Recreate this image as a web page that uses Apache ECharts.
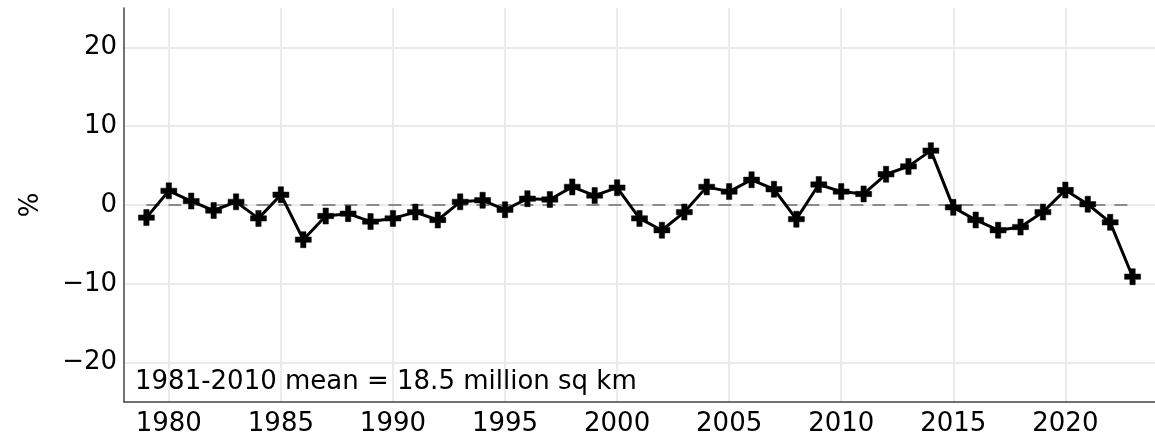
<!DOCTYPE html>
<html>
<head>
<meta charset="utf-8">
<script src="https://cdn.jsdelivr.net/npm/echarts@6/dist/echarts.min.js"></script>
<style>
  html, body { margin: 0; padding: 0; background: #fff; }
  #chart { width: 1155px; height: 440px; }
</style>
</head>
<body>
<div id="chart"></div>
<script>
// Yearly extent anomaly (% of the 1981-2010 mean)
const years = [];
for (let y = 1979; y <= 2023; y++) years.push(y);
const anomalies = [
  -1.6, 1.8, 0.5, -0.7, 0.4, -1.7, 1.3, -4.4, -1.4, -1.1,
  -2.1, -1.7, -0.9, -1.9, 0.4, 0.6, -0.6, 0.8, 0.7, 2.3,
  1.2, 2.2, -1.7, -3.2, -0.9, 2.3, 1.7, 3.2, 2.0, -1.8,
  2.6, 1.7, 1.4, 3.9, 4.9, 6.9, -0.3, -1.9, -3.2, -2.8,
  -0.9, 1.9, 0.1, -2.2, -9.1
];
const xTicks = [1980, 1985, 1990, 1995, 2000, 2005, 2010, 2015, 2020];
const yTicks = [-20, -10, 0, 10, 20];
const meanNote = '1981-2010 mean = 18.5 million sq km';

const lineData = years.map((y, i) => [y, anomalies[i]]);
const zeroData = years.map(y => [y, 0]);
const fmtNum = v => (v < 0 ? '\u2212' + Math.abs(v) : String(v));
const font = 'DejaVu Sans';
const fs = 26;
const plus = 'path://M-1,-3L1,-3L1,-1L3,-1L3,1L1,1L1,3L-1,3L-1,1L-3,1L-3,-1L-1,-1Z';

const chart = echarts.init(document.getElementById('chart'), null, { renderer: 'canvas' });
chart.setOption({
  animation: false,
  backgroundColor: '#fff',
  textStyle: { fontFamily: font },
  title: {
    text: meanNote,
    left: 130, top: 364,
    textStyle: { fontFamily: font, fontSize: fs, fontWeight: 'normal', color: '#000' }
  },
  grid: { left: 124, right: 0, top: 8, bottom: 38, containLabel: false },
  xAxis: {
    type: 'value', min: 1978, max: 2024,
    axisLine: { show: true, onZero: false, lineStyle: { color: '#444', width: 1.5 } },
    axisTick: { show: false, customValues: xTicks },
    axisLabel: { customValues: xTicks, fontSize: fs, color: '#000', margin: 9, fontFamily: font, formatter: v => String(v) },
    splitLine: { show: true, lineStyle: { color: '#ebebeb', width: 2 } }
  },
  yAxis: {
    type: 'value', min: -25, max: 25,
    name: '%', nameLocation: 'middle', nameGap: 80, nameRotate: 90,
    nameTextStyle: { fontSize: fs, color: '#000', fontFamily: font },
    axisLine: { show: true, onZero: false, lineStyle: { color: '#444', width: 1.5 } },
    axisTick: { show: false, customValues: yTicks },
    axisLabel: { customValues: yTicks, fontSize: fs, color: '#000', margin: 7, fontFamily: font, formatter: fmtNum },
    splitLine: { show: true, lineStyle: { color: '#ebebeb', width: 2 } }
  },
  series: [
    {
      name: 'mean', type: 'line', data: zeroData, symbol: 'none', silent: true,
      lineStyle: { color: '#8c8c8c', width: 2, type: [13, 9] }, z: 2
    },
    {
      name: 'anomaly', type: 'line', data: lineData,
      symbol: plus, symbolSize: 16, showAllSymbol: true,
      itemStyle: { color: '#000', borderColor: '#000', borderWidth: 0.5 },
      lineStyle: { color: '#000', width: 3 }, z: 3
    }
  ]
});
</script>
</body>
</html>
